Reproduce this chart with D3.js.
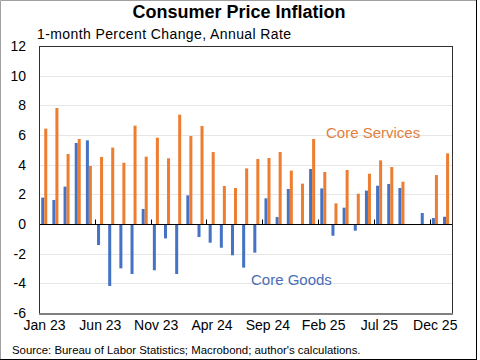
<!DOCTYPE html>
<html>
<head>
<meta charset="utf-8">
<script src="https://cdn.jsdelivr.net/npm/d3@7"></script>
<style>
  html, body { margin: 0; padding: 0; background: #fff; }
  svg { display: block; font-family: "Liberation Sans", Arial, sans-serif; }
</style>
</head>
<body>
<svg id="chart" width="480" height="360"></svg>
<script>
// ---- Data ----
const months = ["Jan 23","Feb 23","Mar 23","Apr 23","May 23","Jun 23","Jul 23","Aug 23","Sep 23","Oct 23","Nov 23","Dec 23",
                "Jan 24","Feb 24","Mar 24","Apr 24","May 24","Jun 24","Jul 24","Aug 24","Sep 24","Oct 24","Nov 24","Dec 24",
                "Jan 25","Feb 25","Mar 25","Apr 25","May 25","Jun 25","Jul 25","Aug 25","Sep 25","Oct 25","Nov 25","Dec 25",
                "Jan 26"];
const coreGoods = [1.78,1.62,2.52,5.46,5.64,-1.42,-4.18,-2.99,-3.37,1.01,-3.12,-0.97,
                   -3.37,1.93,-0.88,-1.26,-1.60,-2.11,-2.94,-1.93,1.73,0.47,2.36,-0.05,
                   3.71,2.40,-0.79,1.10,-0.45,2.25,2.58,2.70,2.43,null,0.74,0.40,0.49];
const coreServices = [6.43,7.82,4.72,5.73,3.91,4.52,5.15,4.13,6.63,4.54,5.82,4.43,
                      7.37,5.93,6.61,4.85,2.56,2.43,3.75,4.38,4.45,4.85,3.60,2.72,
                      5.73,3.51,1.39,3.64,2.04,3.39,4.29,3.84,2.85,null,null,3.30,4.76];
const yTicks = [12,10,8,6,4,2,0,-2,-4,-6];
const xLabels = ["Jan 23","Jun 23","Nov 23","Apr 24","Sep 24","Feb 25","Jul 25","Dec 25"];
const seriesNames = ["Core Goods","Core Services"];
const colors = {"Core Goods":"#4472C4","Core Services":"#ED7D31"};

// ---- Layout ----
const svg = d3.select("#chart");
const plot = {left: 39, right: 452, top: 46, bottom: 313};

const x = d3.scaleBand().domain(months).range([plot.left, plot.right]).padding(0);
const bw = x.bandwidth();
const xs = d3.scaleBand().domain(seriesNames).range([bw*0.2, bw*0.74]).padding(0);
const y = d3.scaleLinear().domain([-6, 12]).range([plot.bottom, plot.top]);

// outer frame
svg.append("line").attr("x1",0.5).attr("y1",0.5).attr("x2",476.5).attr("y2",0.5).attr("stroke","#a0a0a0");
svg.append("line").attr("x1",0.5).attr("y1",0.5).attr("x2",0.5).attr("y2",359.5).attr("stroke","#a0a0a0");
svg.append("line").attr("x1",476.5).attr("y1",0).attr("x2",476.5).attr("y2",359.5).attr("stroke","#000");
svg.append("line").attr("x1",0).attr("y1",359.5).attr("x2",477).attr("y2",359.5).attr("stroke","#000");

// gridlines
svg.append("g").selectAll("line").data(yTicks.filter(d => d !== 0 && d !== 12 && d !== -6)).join("line")
  .attr("x1", plot.left).attr("x2", plot.right)
  .attr("y1", d => Math.round(y(d)) + 0.5).attr("y2", d => Math.round(y(d)) + 0.5)
  .attr("stroke", "#e6e6e6");

// bars
const rows = months.map((m, i) => ({m, "Core Goods": coreGoods[i], "Core Services": coreServices[i]}));
const g = svg.append("g");
seriesNames.forEach(s => {
  g.selectAll(null).data(rows.filter(r => r[s] !== null)).join("rect")
    .attr("x", r => x(r.m) + xs(s))
    .attr("width", xs.bandwidth())
    .attr("y", r => y(Math.max(0, r[s])))
    .attr("height", r => Math.abs(y(r[s]) - y(0)))
    .attr("fill", colors[s]);
});

// zero axis line + ticks
const y0 = Math.round(y(0)) + 0.5;
svg.append("line").attr("x1", plot.left).attr("x2", plot.right).attr("y1", y0).attr("y2", y0).attr("stroke", "#000");
svg.append("g").selectAll("line").data(xLabels.slice(1)).join("line")
  .attr("x1", d => Math.round(x(d)) + 0.5).attr("x2", d => Math.round(x(d)) + 0.5)
  .attr("y1", y0 - 5).attr("y2", y0).attr("stroke", "#000");

// plot frame
svg.append("rect").attr("x", plot.left + 0.5).attr("y", plot.top + 0.5)
  .attr("width", plot.right - plot.left).attr("height", plot.bottom - plot.top)
  .attr("fill", "none").attr("stroke", "#303030");
svg.append("line").attr("x1", plot.left).attr("x2", plot.right + 1)
  .attr("y1", plot.bottom + 1).attr("y2", plot.bottom + 1).attr("stroke", "#808080").attr("stroke-width", 2);

// y tick labels
svg.append("g").selectAll("text").data(yTicks).join("text")
  .attr("x", 26).attr("y", d => y(d)).attr("dy", "0.36em")
  .attr("text-anchor", "end").attr("font-size", 14).attr("fill", "#000")
  .text(d => d);

// x labels
svg.append("g").selectAll("text").data(xLabels).join("text")
  .attr("x", d => x(d) + bw/2).attr("y", 330)
  .attr("text-anchor", "middle").attr("font-size", 14).attr("fill", "#000")
  .text(d => d);

// titles
svg.append("text").attr("x", 239).attr("y", 18).attr("text-anchor", "middle")
  .attr("font-size", 18).attr("font-weight", "bold").attr("fill", "#000")
  .text("Consumer Price Inflation");
svg.append("text").attr("x", 37).attr("y", 39)
  .attr("font-size", 14).attr("letter-spacing", 0.4).attr("fill", "#000")
  .text("1-month Percent Change, Annual Rate");
svg.append("text").attr("x", 12).attr("y", 354)
  .attr("font-size", 11.4).attr("fill", "#000")
  .text("Source: Bureau of Labor Statistics; Macrobond; author's calculations.");

// series annotations
svg.append("text").attr("x", 326).attr("y", 138)
  .attr("font-size", 15).attr("fill", "#E0803F").text("Core Services");
svg.append("text").attr("x", 251).attr("y", 285)
  .attr("font-size", 15).attr("fill", "#4A6DB5").text("Core Goods");
</script>
</body>
</html>
